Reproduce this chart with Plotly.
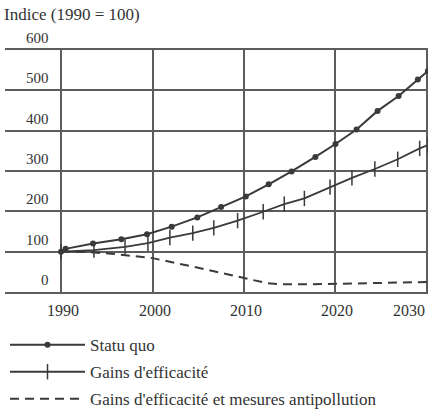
import plotly.graph_objects as go

# valeurs (indice 1990 = 100)
annees_sq = [1990, 1990.5, 1993.5, 1996.6, 1999.4, 2002.1, 2004.9, 2007.5, 2010.2,
             2012.7, 2015.2, 2017.8, 2020.0, 2022.3, 2024.6, 2026.9, 2029.0, 2030.1]
statu_quo = [100, 107, 120, 131, 143, 162, 185, 211, 237,
             267, 299, 335, 367, 403, 449, 486, 527, 548]

annees_eff = [1990, 1993.6, 1997.0, 1999.5, 2001.9, 2004.4, 2006.7, 2009.3, 2012.1,
              2014.4, 2016.6, 2019.4, 2021.8, 2024.3, 2026.8, 2029.2, 2030.1]
gains_eff = [100, 104, 112, 121, 135, 146, 159, 177, 199,
             218, 232, 260, 283, 305, 329, 356, 364]

annees_pol = [1990, 1993, 1995.5, 2000, 2005, 2010, 2012.5, 2014, 2017, 2022, 2030.1]
gains_pol = [100, 99, 95, 84, 60, 34, 22, 19, 19, 21, 25]

x_ticks = [1990, 2000, 2010, 2020, 2030]
y_ticks = [0, 100, 200, 300, 400, 500, 600]

ink = "#3a3a3a"
grid = "#5c5c5c"
serif = "Liberation Serif"

fig = go.Figure()

fig.add_trace(go.Scatter(
    x=annees_sq, y=statu_quo, mode="lines+markers", name="Statu quo",
    legendgroup="a",
    line=dict(color=ink, width=2),
    marker=dict(symbol="circle", size=6, color=ink),
))
fig.add_trace(go.Scatter(
    x=annees_eff, y=gains_eff, mode="lines+markers", name="Gains d'efficacité",
    legendgroup="b",
    line=dict(color=ink, width=1.8),
    marker=dict(symbol="line-ns", size=11, line=dict(color=ink, width=1.5)),
))
fig.add_trace(go.Scatter(
    x=annees_pol, y=gains_pol, mode="lines",
    name="Gains d'efficacité et mesures antipollution",
    legendgroup="c",
    line=dict(color=ink, width=2, dash="9px,6px"),
))

# étiquettes de l'axe vertical, posées au-dessus des lignes
for v in y_ticks:
    fig.add_annotation(x=1988.9, y=v, xref="x", yref="y", text=str(v),
                       showarrow=False, xanchor="right", yanchor="middle", yshift=12,
                       font=dict(family=serif, size=15, color="#333"))

# étiquettes des années (la dernière collée au bord droit)
for yr in x_ticks:
    last = yr == x_ticks[-1]
    fig.add_annotation(x=2030.0 if last else yr, y=0, xref="x", yref="y", text=str(yr),
                       showarrow=False, xanchor="right" if last else "center",
                       yanchor="middle", yshift=-18, xshift=0 if last else 2,
                       font=dict(family=serif, size=16, color="#333"))

fig.add_annotation(x=0, y=1, xref="paper", yref="paper", text="Indice (1990 = 100)",
                   showarrow=False, xanchor="left", yanchor="middle", xshift=-3, yshift=36,
                   font=dict(family=serif, size=17, color="#333"))

fig.update_layout(
    width=428, height=413,
    margin=dict(l=5, r=0, t=50, b=121, autoexpand=False),
    paper_bgcolor="white", plot_bgcolor="white",
    font=dict(family=serif, size=17, color="#333"),
    showlegend=True,
    legend=dict(x=0, xanchor="left", y=-0.145, yanchor="top",
                itemwidth=75, tracegroupgap=2, bgcolor="rgba(0,0,0,0)",
                font=dict(family=serif, size=17, color="#333")),
    xaxis=dict(range=[1983.88, 2030.11], tick0=1990, dtick=10, showticklabels=False,
               showgrid=True, gridcolor=grid, gridwidth=1.5, zeroline=False,
               showline=True, mirror=True, linecolor=grid, linewidth=1.5, ticks=""),
    yaxis=dict(range=[0, 600], dtick=100, showticklabels=False,
               showgrid=True, gridcolor=grid, gridwidth=1.5, zeroline=False,
               showline=False, ticks=""),
)

# pas de marge autour du graphique dans la page
fig.write_html("out.html", config={"displayModeBar": False},
               post_script="document.body.style.margin='0';")
